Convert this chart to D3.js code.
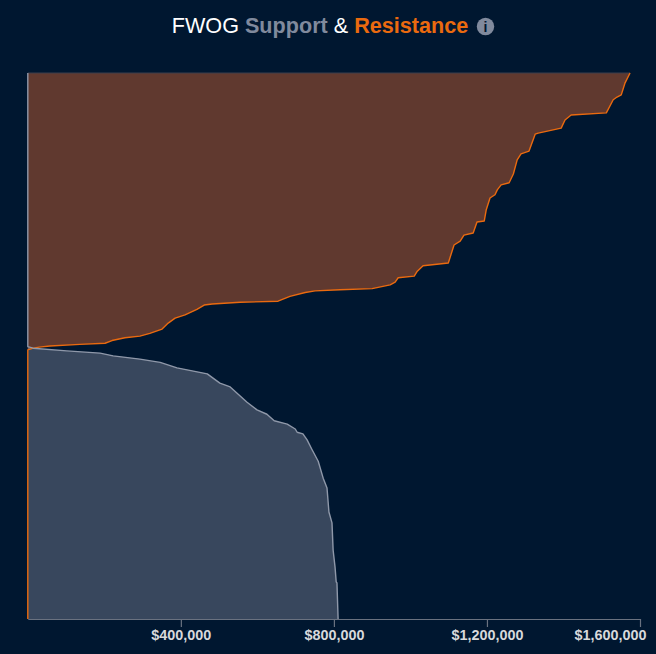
<!DOCTYPE html>
<html>
<head>
<meta charset="utf-8">
<script src="https://cdnjs.cloudflare.com/ajax/libs/d3/7.8.5/d3.min.js"></script>
<style>
    html, body { margin: 0; padding: 0; background: #001730; overflow: hidden; }
    svg { display: block; }
</style>
</head>
<body>
<svg width="656" height="654"></svg>
<script>
    // price is position in the visible range, 0 = bottom, 100 = top
    const resistancePrice = [0, 49.3, 49.6, 49.8, 50.0, 50.3, 50.5, 51.0, 51.5, 51.8, 52.3, 53.1, 54.2, 55.1, 55.7, 56.7, 57.5, 57.7, 58.0, 58.2, 59.1, 59.8, 60.1, 60.3, 60.5, 61.2, 61.7, 62.5, 62.8, 63.7, 64.7, 65.2, 68.5, 69.2, 70.3, 70.7, 72.7, 72.9, 74.9, 77.1, 77.7, 78.6, 79.5, 79.9, 81.5, 84.1, 85.2, 85.7, 88.8, 89.0, 89.9, 91.4, 92.3, 92.7, 95.1, 95.6, 96.0, 98.2, 100];
    const resistanceDepth = [0, 0, 14000, 30000, 58000, 136000, 202000, 220000, 254000, 293000, 319000, 351000, 367000, 385000, 411000, 442000, 461000, 482000, 555000, 654000, 685000, 725000, 751000, 816000, 900000, 947000, 960000, 968000, 1010000, 1018000, 1033000, 1099000, 1114000, 1130000, 1140000, 1164000, 1174000, 1193000, 1198000, 1208000, 1221000, 1227000, 1237000, 1258000, 1269000, 1279000, 1289000, 1310000, 1326000, 1334000, 1394000, 1404000, 1420000, 1512000, 1530000, 1540000, 1551000, 1561000, 1574000];

    const supportPrice = [0, 6.6, 6.8, 9.5, 12.6, 17.6, 19.6, 24.0, 25.8, 28.9, 31.0, 32.8, 33.9, 34.2, 34.8, 35.7, 36.3, 37.5, 38.3, 39.7, 42.5, 43.2, 44.9, 46.0, 47.0, 47.6, 48.2, 48.7, 49.1, 49.6, 49.9, 100];
    const supportDepth = [811000, 808000, 806000, 803000, 798000, 795000, 787000, 782000, 772000, 759000, 743000, 730000, 719000, 704000, 699000, 678000, 644000, 625000, 599000, 573000, 529000, 502000, 469000, 390000, 346000, 293000, 223000, 189000, 102000, 14000, 0, 0];

    const depthTicks = [400000, 800000, 1200000, 1600000];
    const titleParts = [
        { text: 'FWOG ', color: '#ffffff', weight: 400 },
        { text: 'Support', color: '#808a9d', weight: 700 },
        { text: ' & ', color: '#ffffff', weight: 400 },
        { text: 'Resistance', color: '#ea6a0f', weight: 700 }
    ];

    const svg = d3.select('svg');
    const font = '"Liberation Sans", Arial, sans-serif';

    const margin = { top: 73, bottom: 35, left: 27.8, right: 16 };
    const width = +svg.attr('width') - margin.left - margin.right;
    const height = +svg.attr('height') - margin.top - margin.bottom;

    const xScale = d3.scaleLinear().domain([0, 1600000]).range([0, width]);
    const yScale = d3.scaleLinear().domain([0, 100]).range([height, 0]);

    const chart = svg
        .append('g')
        .attr('transform', `translate(${margin.left},${margin.top})`);

    function toRows(prices, depths) {
        return prices.map((p, i) => ({ price: p, depth: depths[i] }));
    }

    const area = d3
        .area()
        .y(d => yScale(d.price))
        .x0(xScale(0))
        .x1(d => xScale(d.depth));

    const line = d3
        .line()
        .y(d => yScale(d.price))
        .x(d => xScale(d.depth));

    // Areas
    chart
        .append('path')
        .attr('d', area(toRows(resistancePrice, resistanceDepth)))
        .attr('fill', '#f06e30')
        .attr('fill-opacity', 0.4);

    chart
        .append('path')
        .attr('d', area(toRows(supportPrice, supportDepth)))
        .attr('fill', '#8c90a2')
        .attr('fill-opacity', 0.4);

    // faint edge along the top of the plot
    chart
        .append('line')
        .attr('x1', xScale(0))
        .attr('x2', xScale(d3.max(resistanceDepth)))
        .attr('y1', yScale(100))
        .attr('y2', yScale(100))
        .attr('stroke', '#3a3f4c');

    chart
        .append('path')
        .attr('d', line(toRows(resistancePrice, resistanceDepth)))
        .attr('fill', 'none')
        .attr('stroke', '#ea6a0f')
        .attr('stroke-width', 1.4)
        .attr('stroke-linejoin', 'round');

    chart
        .append('path')
        .attr('d', line(toRows(supportPrice, supportDepth)))
        .attr('fill', 'none')
        .attr('stroke', '#8f98a9')
        .attr('stroke-width', 1.4)
        .attr('stroke-linejoin', 'round');

    // Add the X Axis
    const xAxis = chart
        .append('g')
        .attr('transform', `translate(0,${height})`)
        .call(
            d3
                .axisBottom(xScale)
                .tickValues(depthTicks)
                .tickSizeOuter(0)
                .tickSizeInner(8)
                .tickPadding(3)
                .tickFormat(d3.format('$,'))
        );
    xAxis.selectAll('line, path').attr('stroke', '#6a7280').attr('stroke-width', 1.2);
    xAxis
        .selectAll('text')
        .attr('fill', '#d8d9dc')
        .style('font-family', font)
        .style('font-size', '14.4px')
        .style('font-weight', 700);
    xAxis
        .selectAll('.tick:last-of-type text')
        .attr('text-anchor', 'end')
        .attr('dx', 6);

    // Title
    const title = svg
        .append('text')
        .attr('x', 320)
        .attr('y', 33)
        .attr('text-anchor', 'middle')
        .style('font-family', font)
        .style('font-size', '21.6px');
    titleParts.forEach(function(part) {
        title
            .append('tspan')
            .attr('fill', part.color)
            .style('font-weight', part.weight)
            .style('white-space', 'pre')
            .text(part.text);
    });

    // Info icon
    const info = svg.append('g').attr('transform', 'translate(485.5,26.5)');
    info.append('circle').attr('r', 8.7).attr('fill', '#808a9d');
    info
        .append('text')
        .attr('y', 5)
        .attr('text-anchor', 'middle')
        .attr('fill', '#001730')
        .style('font-family', font)
        .style('font-size', '14px')
        .style('font-weight', 700)
        .text('i');
</script>
</body>
</html>
